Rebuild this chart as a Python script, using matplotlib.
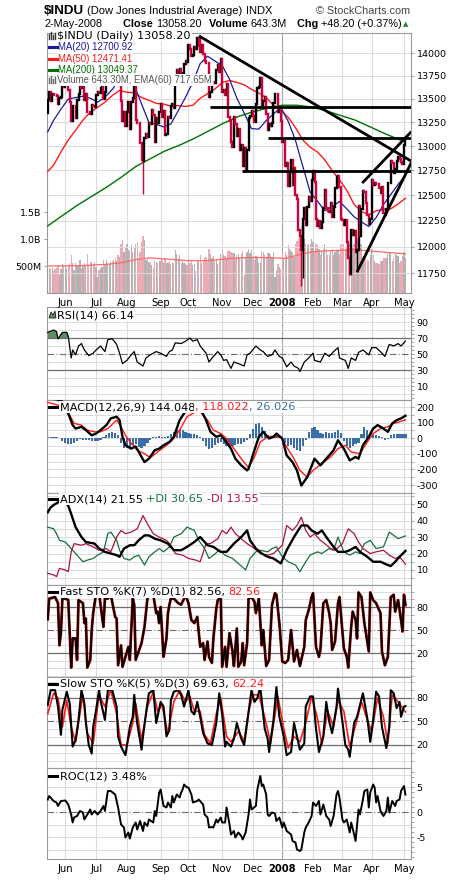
import numpy as np
import matplotlib
matplotlib.use("Agg")
import matplotlib.pyplot as plt
from matplotlib.lines import Line2D
from matplotlib.patches import Polygon
from matplotlib.ticker import FixedLocator, NullLocator, MultipleLocator

plt.rcParams["axes.unicode_minus"] = False
W, H = 460, 880

# ---------------- data ----------------
prev_close = 13346.0
close = [
    13487, 13576, 13476, 13556, 13542, 13539, 13525, 13441, 13507, 13521, 13633, 13628,
    13668, 13676, 13595, 13466, 13267, 13424, 13424, 13295, 13483, 13553, 13639, 13613, 13636, 13490, 13546, 13361, 13353, 13338, 13428, 13422, 13409,
    13535, 13577, 13565, 13612, 13650, 13502, 13577, 13861, 13908, 13951, 13972, 13918, 14000, 13851, 13944, 13716, 13785, 13473, 13265, 13358, 13212,
    13362, 13463, 13182, 13468, 13504, 13658, 13271, 13240, 13237, 13029, 12862, 12846, 13079, 13122, 13091, 13237, 13236, 13379, 13322, 13042, 13290, 13239, 13358,
    13448, 13306, 13364, 13113, 13128, 13308, 13292, 13425, 13443, 13404, 13739, 13816, 13767, 13821, 13760, 13779, 13878, 13913, 13896,
    14088, 14047, 13968, 13975, 14066, 14044, 14165, 14079, 14015, 14093, 13985, 13913, 13893, 13889, 13522, 13567, 13677, 13676, 13671, 13807, 13871, 13793, 13930,
    13567, 13595, 13543, 13661, 13300, 13266, 13043, 12988, 13307, 13231, 13110, 13177, 12958, 13011, 12800, 12981, 12743, 12958, 13289, 13312, 13372,
    13315, 13249, 13445, 13620, 13626, 13727, 13433, 13474, 13518, 13340, 13168, 13233, 13207, 13246, 13451, 13550, 13552, 13359, 13366, 13265,
    13044, 13057, 12800, 12827, 12589, 12736, 12854, 12606, 12778, 12501, 12467, 12159, 12099, 11971, 12271, 12379, 12207, 12384, 12481, 12443, 12650,
    12743, 12636, 12265, 12200, 12248, 12182, 12240, 12373, 12552, 12377, 12348, 12338, 12428, 12285, 12381, 12570, 12684, 12694, 12582, 12266,
    12258, 12213, 12254, 12040, 11894, 11740, 12156, 12110, 12146, 11951, 11972, 12392, 12099, 12361, 12548, 12532, 12422, 12302, 12216, 12263,
    12654, 12605, 12626, 12610, 12612, 12577, 12527, 12582, 12326, 12302, 12362, 12620, 12620, 12849, 12826, 12721, 12764, 12849, 12892, 12871, 12832, 12820,
    13011, 13058,
]
volume_m = [
    430, 470, 440, 460, 400, 450, 470, 520, 330, 440, 540, 520,
    520, 450, 500, 560, 700, 560, 420, 560, 520, 500, 620, 470, 500, 560, 520, 720, 520, 560, 600, 540, 580,
    480, 300, 430, 470, 490, 620, 530, 620, 560, 540, 580, 600, 620, 650, 600, 700, 660, 900, 980, 760, 860,
    900, 800, 800, 880, 760, 840, 900, 940, 650, 760, 950, 1050, 980, 620, 640, 580, 560, 520, 460, 600, 580, 560, 600,
    600, 620, 560, 640, 560, 560, 600, 540, 560, 560, 800, 720, 640, 700, 560, 600, 560, 540, 520,
    620, 560, 600, 520, 540, 400, 620, 600, 700, 560, 600, 640, 660, 580, 820, 720, 640, 680, 620, 620, 540, 600, 720,
    820, 700, 680, 640, 780, 800, 760, 740, 740, 640, 700, 720, 660, 720, 780, 330, 660, 760, 820, 740, 800,
    640, 620, 680, 640, 560, 560, 780, 760, 700, 660, 740, 740, 700, 660, 760, 300, 420, 540, 480, 440,
    700, 640, 760, 700, 880, 820, 780, 740, 660, 900, 960, 1000, 1100, 1240, 1200, 1000, 900, 880, 900, 900, 1000,
    940, 760, 900, 880, 820, 700, 760, 820, 900, 820, 700, 700, 800, 820, 700, 760, 800, 780, 720, 900,
    840, 900, 820, 860, 920, 900, 1000, 840, 900, 880, 1000, 960, 900, 900, 600, 620, 640, 620, 600, 700,
    820, 700, 600, 560, 560, 540, 600, 600, 640, 640, 640, 720, 760, 760, 600, 640, 720, 700, 680, 560, 600, 680,
    760, 643,
]
month_idx = [12, 33, 54, 77, 96, 119, 140, 160, 181, 201, 221, 243]
month_lbl = ["Jun", "Jul", "Aug", "Sep", "Oct", "Nov", "Dec", "2008", "Feb", "Mar", "Apr", "May"]

# intraday extremes visible as long tails
wick_day = [65, 104, 173, 174, 206, 211]
wick_price = [12517, 14198, 11634, 11700, 11731, 11760]

ma20_day = [0, 4, 9, 14, 19, 24, 29, 34, 39, 44, 49, 54, 59, 64, 69, 74, 79, 84, 89, 94, 99, 104, 109, 114, 119, 124,
            129, 134, 139, 144, 149, 154, 159, 164, 169, 174, 179, 184, 189, 194, 199, 204, 209, 214, 219, 224, 229, 234, 239, 244]
ma20_val = [13149, 13270, 13388, 13497, 13512, 13527, 13505, 13463, 13515, 13599, 13709, 13674, 13643, 13444, 13248, 13228,
            13200, 13231, 13371, 13515, 13678, 13883, 13964, 13912, 13862, 13711, 13507, 13347, 13182, 13177, 13267, 13336,
            13407, 13260, 13059, 12792, 12533, 12442, 12348, 12388, 12439, 12366, 12288, 12238, 12194, 12280, 12409, 12508, 12610, 12701]
ma50_day = ma20_day
ma50_val = [12740, 12804, 12939, 13064, 13165, 13272, 13354, 13408, 13462, 13534, 13589, 13570, 13564, 13513, 13483, 13450,
            13443, 13420, 13426, 13417, 13430, 13504, 13554, 13604, 13676, 13697, 13677, 13650, 13600, 13562, 13512, 13431,
            13377, 13301, 13192, 13064, 12988, 12939, 12858, 12748, 12656, 12551, 12410, 12339, 12310, 12346, 12361, 12366, 12415, 12471]
ma200_day = [0, 10, 20, 30, 40, 50, 60, 70, 80, 90, 100, 110, 120, 130, 140, 150, 160, 170, 180, 190, 200, 210, 220, 230, 240, 244]
ma200_val = [12200, 12300, 12400, 12490, 12580, 12680, 12790, 12870, 12950, 13010, 13080, 13160, 13240, 13310, 13360,
             13400, 13430, 13430, 13410, 13370, 13320, 13270, 13200, 13130, 13065, 13049]
vema_day = [0, 20, 40, 50, 60, 70, 80, 95, 110, 125, 140, 155, 162, 170, 180, 190, 200, 210, 220, 232, 244]
vema_val = [500, 505, 530, 560, 620, 650, 630, 600, 600, 640, 660, 650, 640, 700, 760, 780, 790, 800, 780, 750, 725]

# trend lines drawn on the chart (day, price)
down_day, down_px = [103.2, 248.0], [14191, 12845]
res1_day, res1_px = [111, 248.0], [13414, 13414]
res2_day, res2_px = [150.5, 248.0], [13087, 13087]
sup1_day, sup1_px = [132.5, 248.0], [12748, 12748]
wlo_day, wlo_px = [211, 248.0], [11760, 12830]
wup_day, wup_px = [214.5, 248.0], [12623, 13150]

rsi_day = [0, 4, 6, 7, 10, 13, 14, 16, 17, 19, 21, 23, 25, 28, 31, 33, 36, 39, 41, 44, 47, 49, 51, 54, 57, 59, 61, 65, 67, 70,
           74, 77, 81, 83, 85, 87, 91, 94, 97, 99, 102, 104, 108, 110, 113, 116, 118, 120, 122, 125, 127, 130, 134, 136, 138,
           142, 145, 147, 150, 153, 155, 158, 160, 163, 166, 168, 171, 172, 175, 178, 181, 182, 186, 189, 192, 195, 198, 199,
           203, 205, 207, 210, 212, 215, 219, 221, 224, 228, 230, 233, 236, 239, 241, 244]
rsi_val = [77, 80, 78, 69, 77, 77, 72, 45, 55, 49, 60, 63, 55, 48, 51, 55, 60, 53, 68, 69, 62, 51, 38, 42, 49, 53, 40, 35, 45, 49,
           53, 51, 47, 53, 55, 64, 63, 66, 70, 66, 68, 60, 51, 40, 47, 53, 49, 42, 43, 32, 40, 38, 35, 49, 51,
           60, 55, 53, 47, 49, 55, 47, 45, 34, 40, 35, 32, 28, 40, 45, 51, 42, 40, 51, 47, 53, 58, 45,
           42, 32, 45, 42, 52, 55, 49, 58, 58, 51, 47, 62, 60, 63, 60, 66.14]

macd_day = [0, 6, 11, 14, 17, 19, 23, 26, 30, 33, 36, 40, 43, 47, 49, 51, 53, 57, 60, 64, 66, 69, 73, 76, 79, 83, 86, 90, 93, 98,
            101, 104, 108, 111, 115, 118, 121, 125, 128, 132, 136, 137, 141, 144, 147, 151, 154, 156, 160, 163, 167, 170, 173,
            177, 182, 186, 190, 195, 198, 202, 206, 210, 212, 215, 219, 222, 225, 229, 232, 235, 238, 241, 244]
macd_val = [255, 250, 230, 159, 84, 62, 73, 52, 19, 30, 52, 84, 127, 138, 116, 9, -45, -67, -52, -120, -153, -131, -77, -67, -45,
            -24, 9, 116, 159, 202, 224, 191, 116, 41, 9, 19, -13, -67, -131, -174, -206, -196, -77, 9, 41, -2, 9, 30, -2, -110,
            -153, -206, -303, -249, -131, -174, -131, -77, -13, -67, -142, -120, -131, -45, 9, 62, 84, 62, 41, 95, 116, 127, 144.048]
sig_day = [0, 8, 15, 18, 23, 27, 32, 36, 41, 47, 50, 53, 57, 61, 66, 70, 75, 81, 85, 90, 95, 101, 104, 109, 113, 118, 122, 127,
           132, 137, 141, 145, 150, 154, 159, 163, 168, 172, 177, 181, 187, 193, 198, 203, 207, 213, 218, 222, 227, 232, 236, 240, 244]
sig_val = [230, 210, 148, 95, 84, 52, 41, 41, 62, 116, 73, 19, -34, -77, -99, -125, -88, -45, -13, 52, 138, 170, 170, 116, 52, 30,
           -2, -67, -131, -189, -120, -24, 9, 13, 9, -56, -131, -206, -249, -206, -163, -120, -67, -45, -88, -99, -24, 30, 62, 73,
           95, 105, 118.022]
hist_day = list(range(0, 245, 2))
hist_val = [8, 10, 8, 6, 2,
            -15, -30, -40, -38, -30, -20,
            -8, -10, -12, -10, -15,
            -20, -18, -10,
            5, 20, 32, 40, 35, 20,
            -30, -60, -65, -55, -45, -40, -55, -65, -50, -30, -10,
            5, 10, 12, 8, 10, 15,
            25, 40, 55, 60, 50, 40, 35, 30, 30, 20,
            5, -20, -50, -70, -65, -45, -30, -25, -35, -50, -55,
            -50, -45, -40, -35, -25, -10,
            30, 60, 90, 95, 70, 45, 20,
            5, 10, 20, 15, 0,
            -30, -50, -45, -60, -75, -80, -50, -10,
            40, 65, 70, 55, 35,
            30, 40, 35, 35, 40,
            50, 35,
            -20, -50, -60, -50, -40, -30,
            30, 70, 55, 35,
            25, 20, 15, 5,
            -10, -5,
            20, 25, 28, 25, 24, 26]

adx_day = [0, 2, 5, 9, 12, 14, 16, 19, 23, 26, 32, 35, 39, 43, 47, 49, 52, 56, 59, 62, 66, 69, 73, 77, 82, 86, 91, 95, 100, 104,
           109, 113, 118, 122, 127, 132, 136, 138, 142, 146, 150, 154, 159, 163, 168, 173, 177, 180, 184, 187, 190, 195, 198,
           203, 206, 210, 213, 218, 222, 227, 232, 234, 237, 240, 244]
adx_val = [45, 48, 50, 52, 51, 49, 44, 36, 30, 27, 26, 23, 21, 20, 19, 18, 23, 25, 25, 28, 31, 31, 29, 28, 26, 22, 22, 24, 27, 30,
           25, 24, 21, 21, 26, 30, 34, 28, 23, 20, 18, 17, 14, 22, 30, 37, 37, 34, 32, 34, 30, 24, 21,
           21, 22, 24, 21, 18, 15, 15, 13, 12.4, 15, 18, 21.55]
pdi_day = [0, 4, 6, 8, 12, 14, 17, 21, 24, 27, 31, 34, 38, 41, 43, 47, 49, 52, 56, 59, 62, 66, 69, 73, 76, 79, 83, 86, 91, 95,
           100, 103, 107, 110, 113, 117, 121, 126, 130, 135, 138, 142, 145, 150, 153, 156, 160, 164, 169, 172, 176, 179, 184,
           187, 192, 195, 198, 202, 206, 210, 213, 216, 220, 224, 229, 233, 236, 239, 244]
pdi_val = [36, 35, 32, 28, 27, 25, 22, 18, 15, 16, 17, 19, 21, 32, 33, 28, 22, 17, 16, 18, 19, 13, 18, 21, 23, 21, 24, 30, 32, 36,
           34, 28, 23, 17, 19, 22, 19, 17, 14, 10, 17, 21, 22, 21, 23, 24, 18, 15, 13, 9, 15, 19, 21,
           20, 23, 22, 30, 21, 19, 21, 20, 26, 28, 23, 24, 33, 31, 29, 30.65]
mdi_day = [0, 4, 6, 8, 12, 14, 16, 18, 23, 26, 31, 35, 40, 43, 47, 50, 53, 57, 61, 65, 68, 72, 76, 81, 84, 87, 92, 96, 101, 104,
           108, 111, 116, 119, 122, 125, 128, 132, 136, 141, 145, 150, 154, 160, 163, 167, 170, 173, 176, 179, 182, 186, 189,
           193, 196, 201, 205, 209, 212, 215, 220, 224, 229, 233, 237, 240, 244]
mdi_val = [8, 7, 6, 11, 10, 9, 21, 26, 25, 26, 24, 22, 23, 21, 30, 34, 32, 33, 35, 43, 38, 32, 30, 28, 25, 20, 19, 17, 16, 15,
           26, 26, 29, 34, 32, 36, 32, 29, 26, 23, 20, 19, 20, 25, 37, 34, 37, 42, 34, 30, 32, 28, 26,
           23, 22, 26, 35, 32, 27, 23, 20, 21, 22, 19, 17, 18, 13.55]

fsto_day = [0, 1, 5, 7, 8, 9, 10, 12, 14, 16, 17, 19, 20, 21, 24, 25, 26, 27, 29, 30, 31, 33, 35, 38, 39, 41, 43, 46, 47, 48,
            50, 51, 53, 55, 56, 58, 59, 60, 62, 64, 66, 68, 70, 72, 74, 75, 76, 77, 79, 81, 82, 83, 84, 86, 89, 91, 93, 94,
            96, 98, 100, 102, 104, 106, 107, 109, 110, 112, 113, 115, 116, 118, 119, 121, 122, 124, 126, 127, 128, 129, 130,
            132, 133, 134, 136, 137, 139, 141, 142, 144, 146, 147, 149, 151, 153, 155, 156, 158, 160, 162, 164, 166, 168,
            170, 172, 175, 176, 178, 180, 181, 183, 185, 186, 188, 190, 192, 193, 194, 196, 198, 199, 202, 204, 205, 207,
            208, 210, 211, 212, 214, 216, 219, 220, 222, 224, 227, 228, 230, 232, 234, 236, 237, 239, 241, 242, 243, 244]
fsto_k = [64, 91, 93, 85, 30, 46, 91, 91, 89, 1, 39, 39, 11, 89, 85, 59, 65, 1, 11, 50, 72, 98, 98, 54, 91, 91, 96, 67, 65, 4,
          30, 2, 15, 28, 11, 91, 83, 11, 22, 33, 54, 91, 96, 96, 72, 74, 59, 80, 15, 39, 72, 83, 91, 91, 85, 83, 91, 96,
          85, 63, 59, 67, 28, 33, 11, 35, 15, 7, 39, 78, 89, 93, 2, 28, 2, 46, 22, 3, 28, 52, 2,
          9, 33, 4, 33, 91, 93, 87, 72, 91, 30, 50, 3, 11, 83, 98, 96, 59, 9, 7, 11, 50, 9,
          24, 3, 28, 63, 76, 93, 98, 28, 15, 24, 85, 89, 72, 59, 24, 35, 85, 93, 26, 15, 1, 54,
          74, 63, 39, 99, 93, 59, 22, 99, 89, 85, 72, 22, 4, 15, 93, 96, 74, 89, 63, 48, 96, 82.56]

ssto_day = [0, 2, 5, 7, 9, 10, 13, 15, 17, 19, 21, 23, 25, 26, 28, 30, 31, 33, 35, 36, 39, 41, 44, 47, 48, 50, 53, 55, 56, 58,
            59, 61, 64, 65, 67, 69, 72, 74, 77, 79, 81, 83, 84, 86, 89, 91, 93, 96, 98, 100, 102, 104, 106, 109, 112, 115,
            117, 119, 121, 122, 125, 127, 129, 132, 134, 136, 139, 141, 143, 145, 148, 150, 151, 154, 156, 158, 161, 163,
            166, 168, 170, 172, 175, 176, 179, 181, 183, 185, 188, 190, 192, 194, 197, 198, 201, 203, 205, 206, 209, 211,
            213, 215, 218, 220, 222, 224, 226, 228, 231, 233, 234, 236, 238, 240, 241, 243, 244]
ssto_k = [71, 90, 90, 69, 33, 65, 88, 73, 18, 26, 52, 90, 73, 48, 20, 9, 43, 65, 90, 77, 52, 90, 90, 69, 31, 18, 7, 31, 43, 56,
          84, 48, 14, 31, 60, 86, 90, 48, 75, 69, 31, 39, 77, 88, 90, 84, 69, 90, 63, 59, 75, 56, 35, 22, 20, 48,
          86, 59, 18, 24, 18, 28, 48, 28, 20, 48, 90, 75, 80, 94, 41, 28, 11, 52, 94, 56, 31, 7,
          11, 48, 31, 14, 22, 69, 82, 82, 41, 11, 31, 75, 50, 35, 69, 92, 50, 20, 14, 5, 48, 56,
          71, 86, 54, 24, 52, 88, 82, 43, 16, 43, 90, 86, 67, 75, 56, 69, 69.63]
ssto_dday = [0, 4, 7, 10, 13, 16, 19, 24, 27, 31, 35, 39, 43, 47, 50, 54, 58, 60, 64, 68, 72, 75, 78, 82, 86, 90, 94, 97, 100,
             104, 107, 111, 115, 118, 122, 125, 130, 134, 137, 140, 144, 149, 152, 157, 161, 164, 168, 172, 176, 180, 184,
             187, 191, 195, 198, 202, 206, 210, 214, 218, 221, 225, 229, 232, 235, 239, 244]
ssto_d = [60, 86, 80, 43, 77, 43, 24, 84, 35, 22, 84, 69, 90, 60, 20, 20, 48, 73, 26, 69, 88, 63, 71, 35, 75, 90, 75, 82, 63,
          63, 33, 22, 60, 80, 31, 24, 37, 26, 63, 84, 84, 48, 22, 82, 41, 16, 31, 24, 48, 82, 54,
          20, 63, 43, 77, 63, 18, 45, 75, 52, 37, 80, 56, 22, 84, 75, 62.24]

roc_day = [0, 1, 4, 6, 7, 9, 12, 14, 16, 17, 18, 20, 22, 24, 25, 27, 29, 30, 32, 34, 36, 38, 39, 41, 43, 46, 47, 48, 50, 52,
           53, 55, 56, 58, 60, 61, 63, 65, 66, 68, 69, 72, 73, 74, 76, 77, 79, 81, 82, 84, 85, 86, 88, 90, 91, 92, 93, 95,
           96, 98, 99, 102, 103, 106, 107, 109, 110, 112, 113, 115, 116, 118, 119, 121, 122, 124, 125, 127, 128, 130, 132,
           133, 135, 137, 138, 139, 142, 143, 145, 146, 147, 149, 150, 151, 153, 155, 156, 158, 160, 161, 163, 166, 167,
           169, 170, 172, 173, 175, 176, 178, 180, 181, 183, 185, 186, 188, 190, 192, 193, 195, 197, 198, 199, 201, 202,
           204, 206, 207, 209, 210, 212, 213, 215, 216, 218, 219, 220, 222, 223, 224, 225, 227, 229, 231, 232, 233, 235,
           237, 238, 240, 241, 243, 244]
roc_val = [2.5, 3.2, 2.2, 1.9, 1.2, 2.2, 2.3, 1.5, -0.5, -2.1, -1.1, -0.8, 0.2, -0.1, -1.5, -0.5, 0.5, -0.5, 0.2, -0.5, 0.2,
           1.2, 0.2, 4.2, 4.2, 3.5, 2.2, 0.9, -2.5, -3.1, -5.1, -4.1, -5.3, -3.1, -2.1, -3.5, -1.8, -3.8, -2.1, -2.8, -1.5,
           -2.1, 0.2, -0.8, 3.9, 4.5, 1.2, 0.9, 1.9, 0.9, 3.2, 1.9, 3.5, 2.9, 3.9, 4.5, 5.5, 4.9,
           4.9, 3.5, 1.9, 2.2, 2.5, 1.5, -0.5, -1.1, -3.1, -3.0, -3.1, -1.5, -2.1, -1.1, -2.1, -2.1, 0.9, -2.5, -4.5, -3.8,
           -5.1, -4.1, -4.8, -5.5, -4.1, -0.5, 2.5, 0.5, 1.2, 4.5, 7.2, 5.2, 5.5, 3.5, -0.5, -0.8, -0.1, -0.3, -1.8, -1.1,
           -3.1, -2.1, -3.8, -4.5, -5.8, -6.1, -7.5, -7.8, -7.5, -4.1, -3.1, -2.1, -0.8, 1.9, 1.2, 2.2, -0.5, 1.5, -0.8,
           -1.5, -2.8, -0.8, 3.5, 4.2, 2.9, -1.5, -2.1, -1.5, -4.1, -2.1, -4.5, -5.8, 0.5, -0.5, 2.5, 4.2, 4.5, 0.9, 3.9,
           5.5, 4.9, 1.9, 3.2, 0.2, -0.8, 0.2, 2.9, -0.1, 2.2, 1.2, 2.2, 2.5, 4.2, 5.2, 3.48]

for a, b in [(close, volume_m), (hist_day, hist_val), (rsi_day, rsi_val), (macd_day, macd_val), (sig_day, sig_val),
             (adx_day, adx_val), (pdi_day, pdi_val), (mdi_day, mdi_val), (fsto_day, fsto_k), (ssto_day, ssto_k),
             (ssto_dday, ssto_d), (roc_day, roc_val), (ma20_day, ma20_val), (ma50_day, ma50_val), (ma200_day, ma200_val),
             (vema_day, vema_val)]:
    assert len(a) == len(b), (len(a), len(b))

# ---------------- styling helpers ----------------
N = len(close)
days = np.arange(N)
XL = (-0.5, 247.8)
GRID = "#dcdcdc"
FRAME = "#9a9a9a"
TICKFS = 6.8

fig = plt.figure(figsize=(W / 100, H / 100), dpi=100)
fig.patch.set_facecolor("white")


def rect(top, bottom):
    return [47 / W, 1 - bottom / H, 364 / W, (bottom - top) / H]


def base_axes(top, bottom, ylim, yticks, labels=None, minor=None):
    ax = fig.add_axes(rect(top, bottom))
    ax.set_xlim(*XL)
    ax.set_ylim(*ylim)
    for s in ax.spines.values():
        s.set_color(FRAME)
        s.set_linewidth(0.8)
    ax.yaxis.tick_right()
    ax.yaxis.set_major_locator(FixedLocator(yticks))
    if labels is not None:
        ax.set_yticklabels(labels)
    if minor is not None:
        ax.yaxis.set_minor_locator(MultipleLocator(minor))
        ax.tick_params(axis="y", which="minor", length=1.8, color=FRAME, width=0.6)
    ax.tick_params(axis="y", which="major", labelsize=TICKFS, length=2.5, pad=1.5, color=FRAME, width=0.7)
    ax.set_xticks([])
    for i, m in enumerate(month_idx):
        ax.axvline(m, color="#a8a8a8" if month_lbl[i] == "2008" else GRID, lw=0.8, zorder=0.5)
    return ax


def hgrid(ax, vals, color=GRID, lw=0.7, ls="-"):
    for v in vals:
        ax.axhline(v, color=color, lw=lw, ls=ls, zorder=0.6)


renderer = fig.canvas.get_renderer()


def seg_label(x_px, y_px, parts, size=7.2, family="DejaVu Sans", bg=True):
    x = x_px
    for s, color, weight in parts:
        kw = dict(color=color, fontsize=size, family=family, va="center", ha="left", fontweight=weight, zorder=20)
        if bg:
            kw["bbox"] = dict(facecolor="white", edgecolor="none", pad=0.8)
        t = fig.text(x / W, 1 - y_px / H, s, **kw)
        bb = t.get_window_extent(renderer)
        x = bb.x1
    return x


def dash_icon(x0, y, color):
    fig.add_artist(Line2D([x0 / W, (x0 + 8) / W], [1 - y / H, 1 - y / H], transform=fig.transFigure,
                          color=color, lw=2.2, zorder=21))


def bars_icon(x0, y, color="#555555"):
    for k, hgt in enumerate([5, 7, 4, 6]):
        fig.add_artist(Line2D([(x0 + 2 * k) / W] * 2, [1 - (y + 3) / H, 1 - (y + 3 - hgt) / H],
                              transform=fig.transFigure, color=color, lw=1.0, zorder=21))


# ---------------- main price panel ----------------
ax_v = fig.add_axes(rect(33, 293))
ax_v.set_xlim(*XL)
ax_v.set_ylim(0, 4.815e9)
vol = np.array(volume_m) * 1e6
c = np.array(close, dtype=float)
p = np.concatenate([[prev_close], c[:-1]])
upd = c >= p
for i, m in enumerate(month_idx):
    ax_v.axvline(m, color="#a8a8a8" if month_lbl[i] == "2008" else GRID, lw=0.8, zorder=0.3)
ax_v.bar(days, vol, width=0.85, color=np.where(upd, "#b2b2b2", "#ecaab4"), edgecolor="none", zorder=1)
ax_v.plot(vema_day, np.array(vema_val) * 1e6, color="#ff6a6a", lw=0.9, zorder=2)
ax_v.yaxis.set_major_locator(FixedLocator([500e6, 1.0e9, 1.5e9]))
ax_v.set_yticklabels(["500M", "1.0B", "1.5B"])
ax_v.tick_params(axis="y", labelsize=TICKFS, length=2.5, pad=1.5, color=FRAME, width=0.7)
ax_v.set_xticks([])
for s in ax_v.spines.values():
    s.set_visible(False)

ax = fig.add_axes(rect(33, 293))
ax.patch.set_alpha(0)
ax.set_yscale("log")
ax.set_xlim(*XL)
ax.set_ylim(11565, 14225)
pticks = [11750, 12000, 12250, 12500, 12750, 13000, 13250, 13500, 13750, 14000]
ax.yaxis.tick_right()
ax.yaxis.set_major_locator(FixedLocator(pticks))
ax.yaxis.set_minor_locator(NullLocator())
ax.set_yticklabels([str(t) for t in pticks])
ax.tick_params(axis="y", labelsize=TICKFS, length=2.5, pad=1.5, color=FRAME, width=0.7)
for s in ax.spines.values():
    s.set_color(FRAME)
    s.set_linewidth(0.8)
for t in pticks:
    ax.axhline(t, color=GRID, lw=0.7, zorder=0.3)
ax_v.set_zorder(0)
ax.set_zorder(1)

ax.set_xticks(month_idx)
ax.set_xticklabels(month_lbl)
ax.tick_params(axis="x", length=0, pad=3.5, labelsize=7.2)
for tl in ax.get_xticklabels():
    if tl.get_text() == "2008":
        tl.set_fontweight("bold")

ax.plot(ma200_day, ma200_val, color="#007000", lw=1.0, zorder=3)
ax.plot(ma50_day, ma50_val, color="#ff1a1a", lw=1.0, zorder=3)
ax.plot(ma20_day, ma20_val, color="#1a1aa6", lw=0.9, zorder=3)

lo = np.minimum(p, c)
hi = np.maximum(p, c)
bar_col = np.where(upd, "#000000", "#d0003a")
lc = ax.vlines(days, lo, hi, colors=bar_col, lw=1.7, zorder=4)
lc.set_capstyle("projecting")
wk_col = [bar_col[d] for d in wick_day]
ax.vlines(wick_day, [min(c[d], wick_price[i]) for i, d in enumerate(wick_day)],
          [max(c[d], wick_price[i]) for i, d in enumerate(wick_day)], colors=wk_col, lw=1.0, zorder=4)

for dd, pp in [(down_day, down_px), (res1_day, res1_px), (res2_day, res2_px), (sup1_day, sup1_px),
               (wlo_day, wlo_px), (wup_day, wup_px)]:
    ax.plot(dd, pp, color="black", lw=2.0, zorder=5, solid_capstyle="butt")

# ---------------- RSI ----------------
ax_r = base_axes(307, 400, (-7.5, 108.75), [10, 30, 50, 70, 90], minor=5)
hgrid(ax_r, [0, 20, 40, 60, 80, 100])
hgrid(ax_r, [10, 90])
hgrid(ax_r, [30, 70], color="#6e6e6e", lw=0.9)
hgrid(ax_r, [50], color="#6e6e6e", lw=0.8, ls=(0, (6, 2, 1, 2)))
rd = np.array(rsi_day, dtype=float)
rv = np.array(rsi_val, dtype=float)
ax_r.fill_between(rd, rv, 70, where=rv > 70, interpolate=True, color="#5e8c62", zorder=2, lw=0)
ax_r.plot(rd, rv, color="black", lw=0.9, zorder=3)

# ---------------- MACD ----------------
ax_m = base_axes(400, 493, (-351, 245), [200, 100, 0, -100, -200, -300], minor=50)
hgrid(ax_m, [-350, -300, -250, -200, -150, -100, -50, 0, 50, 100, 150, 200])
ax_m.bar(hist_day, hist_val, width=1.5, color="#3b6ea8", edgecolor="none", zorder=2)
ax_m.plot(sig_day, sig_val, color="#ff1a1a", lw=1.0, zorder=3)
ax_m.plot(macd_day, macd_val, color="black", lw=1.7, zorder=4)

# ---------------- ADX ----------------
ax_a = base_axes(493, 585, (0.9, 56.7), [10, 20, 30, 40, 50], minor=5)
hgrid(ax_a, [5, 10, 15, 20, 25, 30, 35, 40, 45, 50, 55])
ax_a.plot(pdi_day, pdi_val, color="#13703a", lw=0.9, zorder=3)
ax_a.plot(mdi_day, mdi_val, color="#b0103f", lw=0.9, zorder=3)
ax_a.plot(adx_day, adx_val, color="black", lw=1.7, zorder=4)

# ---------------- Fast STO ----------------
ax_f = base_axes(585, 677, (-11.3, 108.7), [20, 50, 80], minor=10)
hgrid(ax_f, [-10, 0, 10, 30, 40, 60, 70, 90, 100])
hgrid(ax_f, [20, 80], color="#6e6e6e", lw=0.9)
hgrid(ax_f, [50], color="#6e6e6e", lw=0.8, ls=(0, (6, 2, 1, 2)))
ax_f.plot(fsto_day, fsto_k, color="#c00000", lw=2.0, zorder=3)
ax_f.plot(fsto_day, fsto_k, color="black", lw=1.3, zorder=4)

# ---------------- Slow STO ----------------
ax_s = base_axes(677, 768, (-9.4, 106.8), [20, 50, 80], minor=10)
hgrid(ax_s, [0, 10, 30, 40, 60, 70, 90, 100])
hgrid(ax_s, [20, 80], color="#6e6e6e", lw=0.9)
hgrid(ax_s, [50], color="#6e6e6e", lw=0.8, ls=(0, (6, 2, 1, 2)))
ax_s.plot(ssto_dday, ssto_d, color="#ff1a1a", lw=1.2, zorder=3)
ax_s.plot(ssto_day, ssto_k, color="black", lw=1.5, zorder=4)

# ---------------- ROC ----------------
ax_o = base_axes(768, 859, (-9.4, 8.8), [-5, 0, 5], minor=1)
hgrid(ax_o, [-7.5, -5, -2.5, 2.5, 5, 7.5])
hgrid(ax_o, [0], color="#6e6e6e", lw=0.8, ls=(0, (6, 2, 1, 2)))
ax_o.plot(roc_day, roc_val, color="black", lw=1.4, zorder=4)
ax_o.set_xticks(month_idx)
ax_o.set_xticklabels(month_lbl)
ax_o.tick_params(axis="x", length=0, pad=3.5, labelsize=7.2)
for tl in ax_o.get_xticklabels():
    if tl.get_text() == "2008":
        tl.set_fontweight("bold")

# ---------------- header ----------------
HF = "Liberation Sans"
seg_label(44, 11, [("$INDU", "black", "bold")], size=9.6, family=HF, bg=False)
seg_label(87, 11, [("(Dow Jones Industrial Average)", "black", "normal")], size=8.0, family=HF, bg=False)
seg_label(246, 11, [("INDX", "black", "normal")], size=8.0, family=HF, bg=False)
fig.text(410 / W, 1 - 11 / H, "\u00a9 StockCharts.com", ha="right", va="center", fontsize=7.8, family=HF, color="#444444")
seg_label(45, 24, [("2-May-2008", "black", "normal")], size=7.8, family=HF, bg=False)
seg_label(123, 24, [("Close ", "black", "bold"), ("13058.20", "black", "normal")], size=7.8, family=HF, bg=False)
seg_label(209, 24, [("Volume ", "black", "bold"), ("643.3M", "black", "normal")], size=7.8, family=HF, bg=False)
seg_label(297, 24, [("Chg ", "black", "bold"), ("+48.20 (+0.37%)", "black", "normal")], size=7.8, family=HF, bg=False)
fig.text(406 / W, 1 - 24 / H, "\u25b2", ha="center", va="center", fontsize=5, color="#1a8a2a")

# ---------------- panel labels ----------------
LF = 8.1
MF = 6.9
bars_icon(49, 36, "#333333")
seg_label(57, 36, [("$INDU (Daily) 13058.20", "black", "normal")], size=LF)
dash_icon(49, 47.3, "#1a1aa6")
seg_label(58, 47.3, [("MA(20) 12700.92", "#1a1aa6", "normal")], size=MF, family=HF)
dash_icon(49, 59, "#ff1a1a")
seg_label(58, 59, [("MA(50) 12471.41", "#ff1a1a", "normal")], size=MF, family=HF)
dash_icon(49, 70, "#007000")
seg_label(58, 70, [("MA(200) 13049.37", "#007000", "normal")], size=MF, family=HF)
bars_icon(49, 80, "#666666")
seg_label(57, 80, [("Volume 643.30M, EMA(60) 717.65M", "#555555", "normal")], size=MF, family=HF)

fig.add_artist(Polygon([(49 / W, 1 - 318 / H), (51 / W, 1 - 312 / H), (53 / W, 1 - 315 / H), (55 / W, 1 - 311 / H),
                        (56 / W, 1 - 318 / H)], closed=True, transform=fig.transFigure, facecolor="#5e8c62",
                       edgecolor="black", lw=0.5, zorder=21))
seg_label(57, 315, [("RSI(14) 66.14", "black", "normal")], size=LF)
dash_icon(49, 407.3, "black")
seg_label(60, 407.3, [("MACD(12,26,9) 144.048", "black", "normal"), (", 118.022", "#ff1a1a", "normal"),
                      (", 26.026", "#3b6ea8", "normal")], size=LF)
dash_icon(49, 499, "black")
seg_label(60, 499, [("ADX(14) 21.55 ", "black", "normal"), ("+DI 30.65 ", "#13703a", "normal"),
                    ("-DI 13.55", "#b0103f", "normal")], size=LF)
dash_icon(49, 592, "black")
seg_label(60, 592, [("Fast STO %K(7) %D(1) 82.56, ", "black", "normal"), ("82.56", "#ff1a1a", "normal")], size=LF)
dash_icon(49, 684, "black")
seg_label(60, 684, [("Slow STO %K(5) %D(3) 69.63, ", "black", "normal"), ("62.24", "#ff1a1a", "normal")], size=LF)
dash_icon(49, 776, "black")
seg_label(60, 776, [("ROC(12) 3.48%", "black", "normal")], size=LF)

fig.savefig("out.png", dpi=100, facecolor="white")
